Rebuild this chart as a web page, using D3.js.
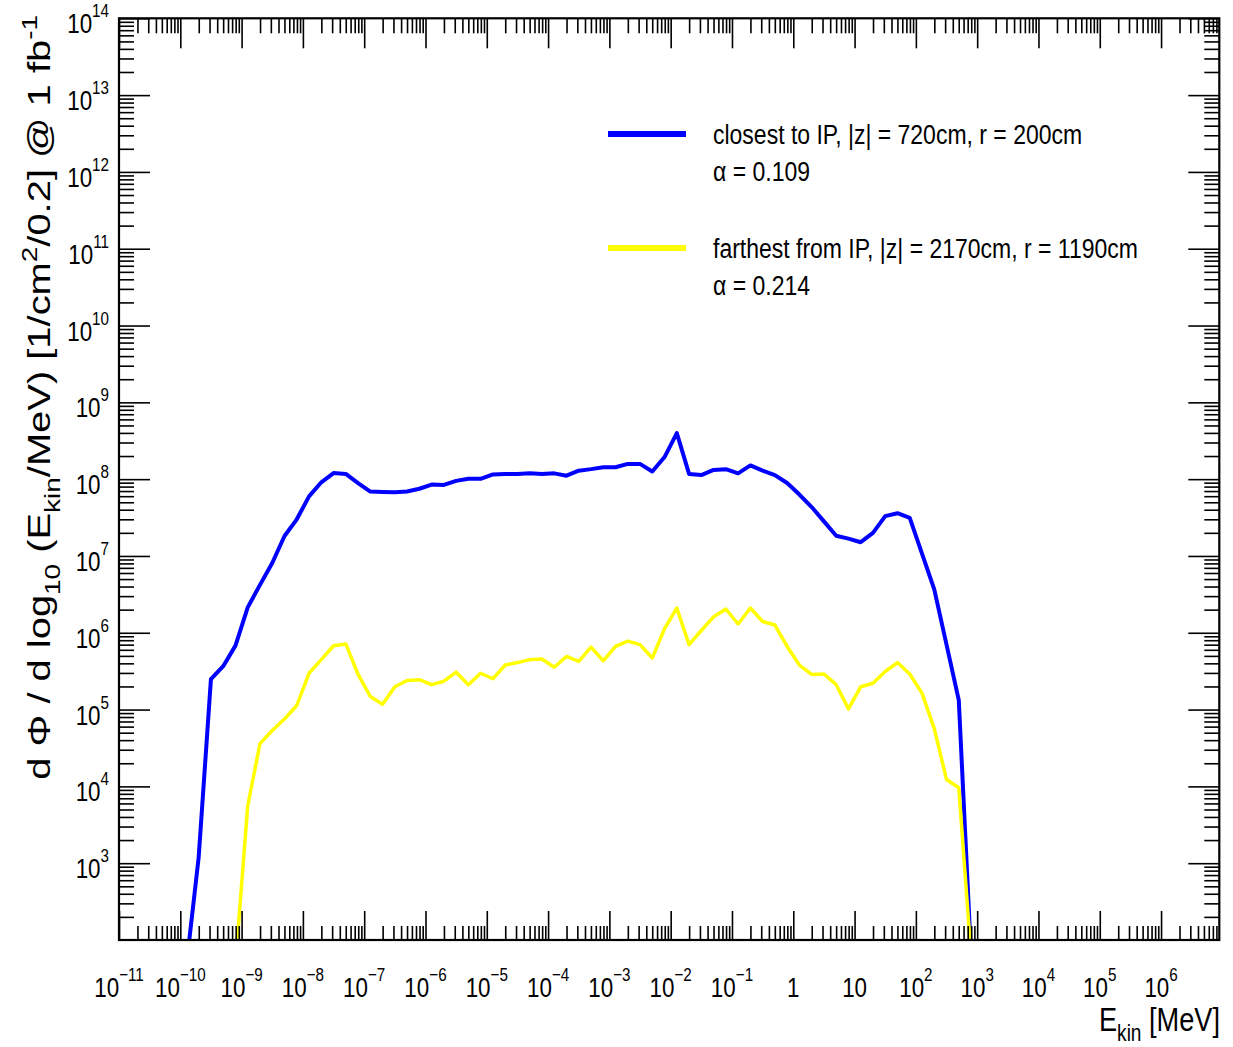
<!DOCTYPE html>
<html><head><meta charset="utf-8">
<script src="https://cdn.jsdelivr.net/npm/d3@7"></script>
<style>body{margin:0;background:#fff}svg{display:block}</style>
</head><body><svg id="c" width="1233" height="1047"></svg>
<script>
// ---- data ----
const energyLog10 = [-9.9,-9.7,-9.5,-9.3,-9.1,-8.9,-8.7,-8.5,-8.3,-8.1,-7.9,-7.7,-7.5,-7.3,-7.1,-6.9,-6.7,-6.5,-6.3,-6.1,
  -5.9,-5.7,-5.5,-5.3,-5.1,-4.9,-4.7,-4.5,-4.3,-4.1,-3.9,-3.7,-3.5,-3.3,-3.1,-2.9,-2.7,-2.5,-2.3,-2.1,
  -1.9,-1.7,-1.5,-1.3,-1.1,-0.9,-0.7,-0.5,-0.3,-0.1,0.1,0.3,0.5,0.7,0.9,1.1,1.3,1.5,1.7,1.9,2.1,2.3,2.5,2.7,2.9];
const closestFlux = [47,1.2e3,2.5e5,3.67e5,6.8e5,2.14e6,4.2e6,8.1e6,1.82e7,3.0e7,5.96e7,9.1e7,1.2e8,1.17e8,8.9e7,6.9e7,6.8e7,6.75e7,6.9e7,7.5e7,
  8.5e7,8.4e7,9.5e7,1.01e8,1.01e8,1.15e8,1.17e8,1.17e8,1.19e8,1.17e8,1.19e8,1.11e8,1.29e8,1.35e8,1.43e8,1.43e8,1.58e8,1.58e8,1.26e8,1.94e8,
  3.98e8,1.17e8,1.13e8,1.32e8,1.35e8,1.19e8,1.51e8,1.29e8,1.13e8,8.9e7,6.3e7,4.33e7,2.82e7,1.83e7,1.68e7,1.51e7,2.0e7,3.3e7,3.6e7,3.13e7,
  1.07e7,3.67e6,7.0e5,1.33e5,63];
const farthestFlux = [null,null,null,null,49,5.6e3,3.6e4,5.35e4,7.55e4,1.13e5,2.97e5,4.47e5,6.78e5,7.16e5,2.87e5,1.48e5,1.17e5,1.98e5,2.39e5,2.45e5,
  2.11e5,2.34e5,3.07e5,2.11e5,2.97e5,2.52e5,3.8e5,4.09e5,4.47e5,4.56e5,3.56e5,4.91e5,4.23e5,6.49e5,4.32e5,6.64e5,7.78e5,7.0e5,4.7e5,1.13e6,
  2.1e6,7.0e5,1.07e6,1.61e6,2.04e6,1.3e6,2.1e6,1.4e6,1.26e6,6.64e5,3.8e5,2.87e5,2.91e5,2.11e5,1.02e5,1.98e5,2.2e5,3.13e5,4.09e5,2.91e5,
  1.64e5,5.64e4,1.23e4,9.6e3,63];
const seriesNames = ["closest to IP, |z| = 720cm, r = 200cm", "farthest from IP, |z| = 2170cm, r = 1190cm"];
const seriesAlpha = ["α = 0.109", "α = 0.214"];
const seriesColors = ["#0000ff", "#ffff00"];
const xTickExponents = [-11,-10,-9,-8,-7,-6,-5,-4,-3,-2,-1,0,1,2,3,4,5,6];
const yTickExponents = [3,4,5,6,7,8,9,10,11,12,13,14];

// ---- layout ----
const L = 119, R = 1219.3, T = 18.3, B = 940;
const SANS = "'Liberation Sans',Arial,Helvetica,sans-serif";
const NX = 0.8; // horizontal condensing of label text
const svg = d3.select("#c");
const x = d3.scaleLog().domain([1e-11, Math.pow(10, 6.95)]).range([L, R]);
const y = d3.scaleLog().domain([1e2, 1e14]).range([B, T]);

function minors(lo, hi) {
  const out = [];
  for (let e = Math.floor(Math.log10(lo)); e <= Math.ceil(Math.log10(hi)); e++)
    for (let m = 2; m <= 9; m++) { const v = m * Math.pow(10, e); if (v > lo && v < hi) out.push(v); }
  return out;
}
const xMaj = xTickExponents.map(e => Math.pow(10, e));
const yMaj = yTickExponents.map(e => Math.pow(10, e));
const xMin = minors(1e-11, Math.pow(10, 6.95));
const yMin = minors(1e2, 1e14);

svg.append("defs").append("clipPath").attr("id", "clip")
  .append("rect").attr("x", L).attr("y", T).attr("width", R - L).attr("height", B - T);

// ---- curves ----
const line = d3.line()
  .defined(d => d.v != null && d.v > 0)
  .x(d => x(Math.pow(10, d.e))).y(d => y(d.v));
[closestFlux, farthestFlux].forEach((vals, i) => {
  const pts = energyLog10.map((e, k) => ({ e, v: vals[k] }));
  svg.append("path").attr("clip-path", "url(#clip)")
    .attr("d", line(pts)).attr("fill", "none")
    .attr("stroke", seriesColors[i]).attr("stroke-width", i === 0 ? 4 : 3.5)
    .attr("stroke-linejoin", "round");
});

// ---- axes (ticks inward on all sides) ----
function tickAxis(axisFn, scale, vals, size, tr) {
  const g = svg.append("g").attr("transform", tr)
    .call(axisFn(scale).tickValues(vals).tickSizeInner(size).tickSizeOuter(0).tickFormat(""));
  g.select(".domain").remove();
  g.selectAll(".tick line").attr("stroke", "#000").attr("stroke-width", 1.6);
}
tickAxis(d3.axisBottom, x, xMaj, -29, `translate(0,${B})`);
tickAxis(d3.axisBottom, x, xMin, -14, `translate(0,${B})`);
tickAxis(d3.axisTop, x, xMaj, -30, `translate(0,${T})`);
tickAxis(d3.axisTop, x, xMin, -15, `translate(0,${T})`);
tickAxis(d3.axisLeft, y, yMaj, -31, `translate(${L},0)`);
tickAxis(d3.axisLeft, y, yMin, -15, `translate(${L},0)`);
tickAxis(d3.axisRight, y, yMaj, -31, `translate(${R},0)`);
tickAxis(d3.axisRight, y, yMin, -15, `translate(${R},0)`);

svg.append("rect").attr("x", L).attr("y", T).attr("width", R - L).attr("height", B - T)
  .attr("fill", "none").attr("stroke", "#000").attr("stroke-width", 2.2);

// condensed text: a group at (px,py) scaled horizontally
function ctext(px, py, size, anchor, sx) {
  return svg.append("g").attr("transform", `translate(${px},${py}) scale(${sx || NX},1)`)
    .append("text").attr("text-anchor", anchor).attr("font-family", SANS).attr("font-size", size);
}

// ---- tick labels ----
function expLabel(t, e) {
  if (e === 0) { t.append("tspan").text("1"); return; }
  if (e === 1) { t.append("tspan").text("10"); return; }
  t.append("tspan").text("10");
  t.append("tspan").attr("font-size", 19).attr("dy", -16).text(e < 0 ? "\u2212" + (-e) : String(e));
}
xTickExponents.forEach(e => expLabel(ctext(x(Math.pow(10, e)), 997, 28, "middle"), e));
yTickExponents.forEach(e => expLabel(ctext(109, y(Math.pow(10, e)) + 15, 28, "end"), e));

// ---- rich text helper ----
function rich(t, parts, base) {
  let shift = 0;
  parts.forEach(p => {
    const ts = t.append("tspan").text(p.t);
    const target = p.s === "sub" ? base * 0.3 : p.s === "sup" ? -base * 0.42 : 0;
    ts.attr("dy", target - shift);
    shift = target;
    if (p.s) ts.attr("font-size", base * 0.7);
  });
}

// x title
rich(ctext(1220, 1031, 34, "end"), [{ t: "E" }, { t: "kin", s: "sub" }, { t: " [MeV]" }], 34);

// y title (rotated, stretched along its length)
const yg = svg.append("g");
const yt = yg.append("text").attr("text-anchor", "end").attr("font-family", SANS).attr("font-size", 32);
rich(yt, [{ t: "d \u03A6 / d log" }, { t: "10", s: "sub" }, { t: " (E" }, { t: "kin", s: "sub" },
  { t: "/MeV) [1/cm" }, { t: "2", s: "sup" }, { t: "/0.2] @ 1 fb" }, { t: "-1", s: "sup" }], 32);
const ylen = yt.node().getComputedTextLength();
yg.attr("transform", `translate(50,15) rotate(-90) scale(${765 / ylen},1)`);

// cut-off title at top edge (as in the reference)
rich(ctext(595, -12, 26, "middle"), [{ t: "E" }, { t: "kin", s: "sub" }], 26);

// ---- legend ----
const legY = [134, 248];
const legTexts = [];
seriesNames.forEach((name, i) => {
  svg.append("line").attr("x1", 608).attr("x2", 686).attr("y1", legY[i]).attr("y2", legY[i])
    .attr("stroke", seriesColors[i]).attr("stroke-width", 6);
  legTexts.push(ctext(713, legY[i] + 10, 28, "start").text(name));
  legTexts.push(ctext(713, legY[i] + 47, 28, "start").text(seriesAlpha[i]));
});
// fit first legend entry width to the reference (~369px)
{
  const s = 369 / legTexts[0].node().getComputedTextLength();
  legTexts.forEach(t => {
    const g = d3.select(t.node().parentNode);
    g.attr("transform", g.attr("transform").replace(/scale\([^)]*\)/, `scale(${s},1)`));
  });
}
</script></body></html>
